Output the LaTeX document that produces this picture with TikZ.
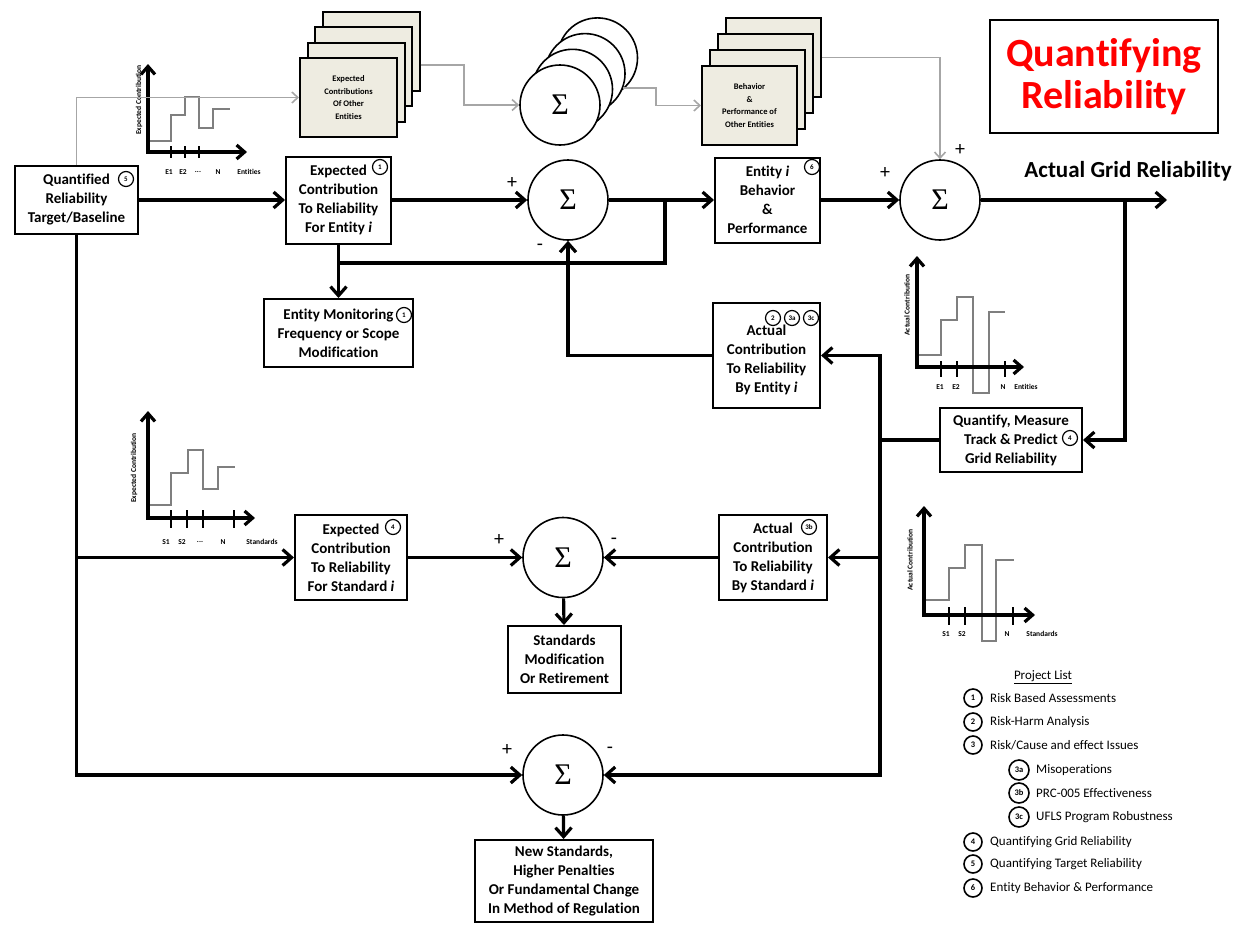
\documentclass[tikz,border=0pt]{standalone}
\usepackage{fontspec}
\setmainfont{Carlito}[Ligatures=NoCommon]
\newfontfamily\sigmafont{Liberation Serif}
\usetikzlibrary{arrows.meta,calc}
\definecolor{stackfill}{HTML}{EEECE1}
\definecolor{linegray}{HTML}{A6A6A6}
\definecolor{curvegray}{HTML}{7F7F7F}
\definecolor{titlered}{HTML}{FF0000}
\begin{document}
\begin{tikzpicture}[x=1pt,y=-1pt,
  box/.style={draw, line width=2pt, fill=white, align=center, inner sep=1pt,
              font=\fontsize{15}{19}\selectfont\bfseries},
  stk/.style={draw, line width=2pt, fill=stackfill, minimum width=97pt, minimum height=79pt,
              align=center, inner sep=1pt, font=\fontsize{8.5}{12.5}\selectfont\bfseries},
  sum/.style={circle, draw, line width=1.6pt, fill=white, minimum size=80pt, inner sep=0pt,
              font=\sigmafont\fontsize{30}{30}\selectfont},
  cn/.style={circle, draw, line width=1.2pt, fill=white, minimum size=15pt, inner sep=0pt,
             font=\fontsize{7}{7}\selectfont\bfseries},
  cnl/.style={cn, line width=1.6pt, minimum size=18pt, font=\fontsize{8.5}{8.5}\selectfont\bfseries},
  sign/.style={font=\fontsize{20}{20}\selectfont, inner sep=0pt},
  conn/.style={line width=3.2pt},
  jn/.style={conn, line cap=rect},
  arr/.style={conn, -{Straight Barb[length=9pt,width=16pt]}},
  gconn/.style={line width=1.6pt, draw=linegray},
  garr/.style={gconn, -{Straight Barb[length=6pt,width=11pt]}},
  axes/.style={line width=3.2pt, {Straight Barb[length=8pt,width=14pt]}-{Straight Barb[length=8pt,width=14pt]}},
  curve/.style={line width=1.5pt, draw=curvegray},
  tick/.style={line width=2pt},
  glab/.style={font=\fontsize{7.5}{7.5}\selectfont\bfseries, inner sep=0pt},
  ylab/.style={glab, rotate=90},
  plist/.style={font=\fontsize{13}{13}\selectfont, anchor=west, inner sep=0pt}
]
\useasboundingbox (0,0) rectangle (1237,927);

% ---------- title ----------
\node[draw, line width=2pt, minimum width=228pt, minimum height=113pt, align=center,
      text=titlered, font=\fontsize{40}{42}\selectfont\bfseries] (title) at (1104,76.5)
      {Quantifying\\Reliability};

% ---------- stack of other entities' expected contributions ----------
\node[stk] (st4) at (371,51) {};
\node[stk] (st3) at (363.5,66.5) {};
\node[stk] (st2) at (356,82) {};
\node[stk] (st1) at (348.5,97.5) {Expected\\Contributions\\Of Other\\Entities};

% ---------- stack of summing junctions ----------
\node[sum] (c4) at (597.5,57.9) {};
\node[sum] (c3) at (585,73.6) {};
\node[sum] (c2) at (572.5,89.3) {};
\node[sum] (c1) at (560,105) {Σ};

% ---------- stack of other entities' behaviour ----------
\node[stk, minimum width=95pt] (r4) at (773.5,57.5) {};
\node[stk, minimum width=95pt] (r3) at (765.5,73.5) {};
\node[stk, minimum width=95pt] (r2) at (757.5,89.5) {};
\node[stk, minimum width=95pt] (r1) at (749.5,105.5) {Behavior\\\&\\Performance of\\Other Entities};

% ---------- expected contribution by entity (plot) ----------
\draw[curve] (149,141) -- (171,141) -- (171,115) -- (185,115) -- (185,97) -- (199,97)
  -- (199,128) -- (213,128) -- (213,109) -- (230,109);
\draw[axes] (148,64) -- (148,152) -- (247,152);
\foreach \x in {171,185,199} \draw[tick] (\x,146) -- (\x,158);
\node[ylab] (yl1) at (139,100) {Expected Contribution};
\node[glab] (xa1) at (169,172) {E1};
\node[glab] (xb1) at (183,172) {E2};
\node[glab] (xc1) at (198,172) {...};
\node[glab] (xd1) at (218,172) {N};
\node[glab] (xe1) at (249,172) {Entities};

% ---------- actual contribution by entity (plot) ----------
\draw[curve] (918,355) -- (941,355) -- (941,320) -- (957,320) -- (957,297) -- (973,297)
  -- (973,393) -- (989,393) -- (989,312) -- (1005,312);
\draw[axes] (917,256) -- (917,367) -- (1024,367);
\foreach \x in {941,957,1005} \draw[tick] (\x,361) -- (\x,377);
\node[ylab] (yl2) at (907,305) {Actual Contribution};
\node[glab] (xa2) at (940,387) {E1};
\node[glab] (xb2) at (956,387) {E2};
\node[glab] (xd2) at (1003,387) {N};
\node[glab] (xe2) at (1026,387) {Entities};

% ---------- expected contribution by standard (plot) ----------
\draw[curve] (149,505) -- (171,505) -- (171,473) -- (188,473) -- (188,450) -- (203,450)
  -- (203,489) -- (218,489) -- (218,467) -- (235,467);
\draw[axes] (148,411) -- (148,518) -- (255,518);
\foreach \x in {171,187,203,234} \draw[tick] (\x,510) -- (\x,528);
\node[ylab] (yl3) at (134,468) {Expected Contribution};
\node[glab] (xa3) at (166,542) {S1};
\node[glab] (xb3) at (182,542) {S2};
\node[glab] (xc3) at (200,542) {...};
\node[glab] (xd3) at (223,542) {N};
\node[glab] (xe3) at (262,542) {Standards};

% ---------- actual contribution by standard (plot) ----------
\draw[curve] (925,600) -- (949,600) -- (949,568) -- (965,568) -- (965,545) -- (982,545)
  -- (982,641) -- (996,641) -- (996,560) -- (1014,560);
\draw[axes] (924,506) -- (924,615) -- (1035,615);
\foreach \x in {949,965,1013} \draw[tick] (\x,607) -- (\x,625);
\node[ylab] (yl4) at (910,560) {Actual Contribution};
\node[glab] (xa4) at (946,634) {S1};
\node[glab] (xb4) at (962,634) {S2};
\node[glab] (xd4) at (1007,634) {N};
\node[glab] (xe4) at (1042,634) {Standards};

% ---------- main blocks ----------
\node[box, minimum width=123pt, minimum height=68pt] (q) at (76.5,200)
  {Quantified\\Reliability\\Target/Baseline};
\node[box, minimum width=105pt, minimum height=87pt] (ece) at (338.5,200)
  {Expected\\Contribution\\To Reliability\\For Entity \textit{i}};
\node[sum] (s1) at (568,200) {Σ};
\node[box, minimum width=105pt, minimum height=85pt] (eb) at (767.5,200)
  {Entity \textit{i}\\Behavior\\\&\\Performance};
\node[sum] (s2) at (940,200) {Σ};
\node[box, minimum width=149pt, minimum height=68pt] (mon) at (338.5,333)
  {Entity Monitoring\\Frequency or Scope\\Modification};
\node[box, minimum width=107pt, minimum height=105pt] (ace) at (766.5,355.5)
  {\mbox{}\\[1pt]Actual\\Contribution\\To Reliability\\By Entity \textit{i}};
\node[box, minimum width=142pt, minimum height=64pt] (qm) at (1011,440)
  {Quantify, Measure\\Track \& Predict\\Grid Reliability};
\node[box, minimum width=112pt, minimum height=85pt] (ecs) at (351,557.5)
  {Expected\\Contribution\\To Reliability\\For Standard \textit{i}};
\node[sum] (s3) at (563,557.5) {Σ};
\node[box, minimum width=113pt, minimum height=67pt] (smr) at (564.5,659.5)
  {Standards\\Modification\\Or Retirement};
\node[box, minimum width=108pt, minimum height=85pt] (acs) at (773,557.5)
  {Actual\\Contribution\\To Reliability\\By Standard \textit{i}};
\node[sum] (s4) at (563,775) {Σ};
\node[box, minimum width=178pt, minimum height=82pt] (ns) at (564,881)
  {New Standards,\\Higher Penalties\\Or Fundamental Change\\In Method of Regulation};

% ---------- project tags on the blocks ----------
\node[cn] (tq) at (126,179) {5};
\node[cn] (tece) at (380,167) {1};
\node[cn] (tmon) at (404,315) {1};
\node[cn] (teb) at (812,167) {6};
\node[cn] (tace1) at (773,318) {2};
\node[cn] (tace2) at (792,318) {3a};
\node[cn] (tace3) at (811,318) {3c};
\node[cn] (tqm) at (1070,438) {4};
\node[cn] (tecs) at (393,527) {4};
\node[cn] (tacs) at (809,527) {3b};

% ---------- signs at the summing junctions ----------
\node[sign] (p1) at (512,183) {+};
\node[sign] (m1) at (540,247) {-};
\node[sign] (p2a) at (885,173) {+};
\node[sign] (p2b) at (960,150) {+};
\node[sign] (p3) at (499,540) {+};
\node[sign] (m3) at (614,541) {-};
\node[sign] (p4) at (507,750) {+};
\node[sign] (m4) at (610,750) {-};

\node[font=\fontsize{23}{23}\selectfont\bfseries, inner sep=0pt] (agr) at (1128,171)
  {Actual Grid Reliability};

% ---------- grey signal paths of other entities ----------
\draw[garr] (q.north) |- (st1.west);
\draw[garr] ([yshift=-14pt]st4.east) -- ++(43.5,0) |- (c1.west);
\draw[garr] (c3.-21) -- ++(33,0) |- (r1.west);
\draw[garr] (r4.east) -| (s2.north);

% ---------- main signal paths ----------
\coordinate (out) at (1167,200);
\coordinate (b1) at (665,200);
\coordinate (j1) at (338.5,263);
\coordinate (vt) at (880,355.5);
\coordinate (vb) at (880,775);
\coordinate (b2) at (1125,200);

\draw[arr] (q) -- (ece);
\draw[arr] (ece) -- (s1);
\draw[arr] (s1) -- (eb);
\draw[arr] (eb) -- (s2);
\draw[arr] (s2) -- (out);
\draw[jn] (b1) |- (j1);
\draw[arr] (ece) -- (mon);
\draw[arr] (ace.west) -| (s1.south);
\draw[arr] (vt) -- (ace.east);
\draw[jn] (vt) -- (vb);
\draw[jn] (qm.west) -- (qm.west -| vt);
\draw[arr] (b2) |- (qm.east);
\draw[arr] (q.south) |- (s4.west);
\draw[arr] (q.south |- ecs.west) -- (ecs.west);
\draw[arr] (ecs) -- (s3);
\draw[arr] (acs) -- (s3);
\draw[arr] (vt |- acs.east) -- (acs.east);
\draw[arr] (s3) -- (smr);
\draw[arr] (vb) -- (s4.east);
\draw[arr] (s4) -- (ns);

% ---------- project list ----------
\node[font=\fontsize{13}{13}\selectfont, inner sep=0pt] (pl) at (1043,677) {\underline{Project List}};
\node[cnl] (k1) at (973,698) {1};
\node[plist] (l1) at (990,698) {Risk Based Assessments};
\node[cnl] (k2) at (973,722) {2};
\node[plist] (l2) at (990,722) {Risk-Harm Analysis};
\node[cnl] (k3) at (973,745) {3};
\node[plist] (l3) at (990,745) {Risk/Cause and effect Issues};
\node[cnl, minimum size=20pt] (k3a) at (1019,770) {3a};
\node[plist] (l3a) at (1036,770) {Misoperations};
\node[cnl, minimum size=20pt] (k3b) at (1019,793) {3b};
\node[plist] (l3b) at (1036,793) {PRC-005 Effectiveness};
\node[cnl, minimum size=20pt] (k3c) at (1019,817) {3c};
\node[plist] (l3c) at (1036,817) {UFLS Program Robustness};
\node[cnl] (k4) at (973,842) {4};
\node[plist] (l4) at (990,842) {Quantifying Grid Reliability};
\node[cnl] (k5) at (973,864) {5};
\node[plist] (l5) at (990,864) {Quantifying Target Reliability};
\node[cnl] (k6) at (973,888) {6};
\node[plist] (l6) at (990,888) {Entity Behavior \& Performance};
\end{tikzpicture}
\end{document}
